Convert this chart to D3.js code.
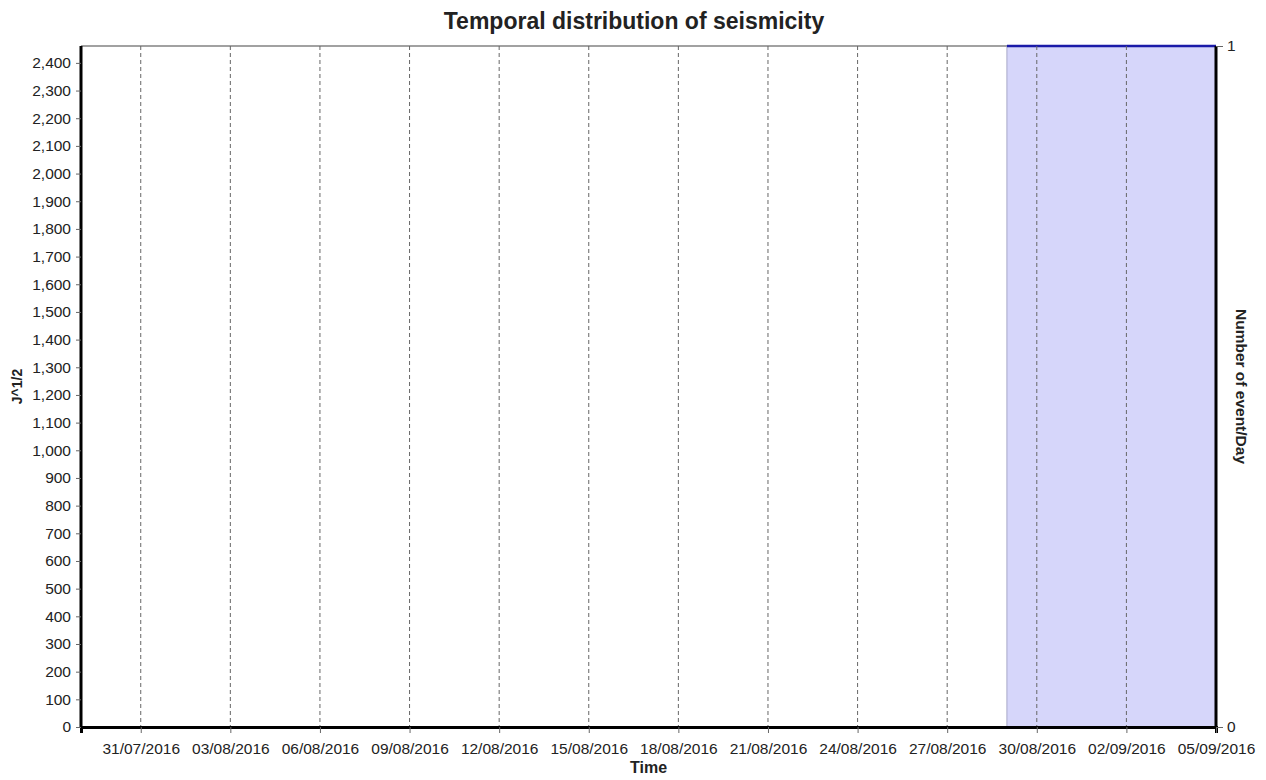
<!DOCTYPE html>
<html lang="en">
<head>
<meta charset="UTF-8">
<title>Temporal distribution of seismicity</title>
<script src="https://d3js.org/d3.v7.min.js"></script>
<style>
  body { margin:0; background:#fff; }
  text { font-family: "Liberation Sans", Arial, sans-serif; fill:#222; }
  .tick text { font-size:15.5px; }
  .grid line { stroke:#666; stroke-dasharray:4,3; stroke-width:1; }
</style>
</head>
<body>
<script>
// x range and tick labels (dd/mm/yyyy)
var startDate = "29/07/2016", endDate = "05/09/2016";
var xTickLabels = ["31/07/2016","03/08/2016","06/08/2016","09/08/2016","12/08/2016","15/08/2016",
                   "18/08/2016","21/08/2016","24/08/2016","27/08/2016","30/08/2016","02/09/2016","05/09/2016"];
// left axis (energy) ticks
var energyMax = 2461;
var energyTicks = d3.range(0, 2401, 100);
// number of events per day (step area)
var rateDates = ["29/08/2016","05/09/2016"];
var rateValues = [1, 1];
var rateTicks = [0, 1];

var parse = d3.timeParse("%d/%m/%Y");
var width = 1266, height = 780;
var m = {left:81, right:50, top:46, bottom:53};
var w = width - m.left - m.right, h = height - m.top - m.bottom;

var svg = d3.select("body").append("svg").attr("width", width).attr("height", height);

var x = d3.scaleTime().domain([parse(startDate), parse(endDate)]).range([0, w]);
var y = d3.scaleLinear().domain([0, energyMax]).range([h, 0]);
var y2 = d3.scaleLinear().domain([0, 1]).range([h, 0]);

var g = svg.append("g").attr("transform", "translate(" + m.left + "," + m.top + ")");

// top border
g.append("line").attr("x1", 0).attr("x2", w).attr("y1", 0).attr("y2", 0)
  .attr("stroke", "#444").attr("stroke-width", 1.2);

// events/day area
var rateData = rateDates.map(function(d, i){ return {date: parse(d), v: rateValues[i]}; });
var area = d3.area().curve(d3.curveStepAfter)
  .x(function(d){ return x(d.date); })
  .y0(h)
  .y1(function(d){ return y2(d.v); });
g.append("path").attr("d", area(rateData))
  .attr("fill", "#d6d6fa").attr("stroke", "#a8a8c8").attr("stroke-width", 1);
var line = d3.line().curve(d3.curveStepAfter)
  .x(function(d){ return x(d.date); })
  .y(function(d){ return y2(d.v); });
g.append("path").attr("d", line(rateData))
  .attr("fill", "none").attr("stroke", "#1a1aa8").attr("stroke-width", 2.5);

// vertical dashed grid
var tickDates = xTickLabels.map(parse);
g.append("g").attr("class", "grid")
  .selectAll("line").data(tickDates.slice(0, -1)).enter().append("line")
  .attr("x1", function(d){ return x(d); }).attr("x2", function(d){ return x(d); })
  .attr("y1", 0).attr("y2", h);

// x axis
var xAxis = g.append("g").attr("transform", "translate(0," + h + ")")
  .call(d3.axisBottom(x).tickValues(tickDates).tickSize(6).tickPadding(10)
    .tickFormat(d3.timeFormat("%d/%m/%Y")));
xAxis.select(".domain").attr("stroke", "#000").attr("stroke-width", 3);
xAxis.selectAll(".tick line").attr("stroke", "#666");

// left axis
var yAxis = g.append("g")
  .call(d3.axisLeft(y).tickValues(energyTicks).tickSize(5).tickPadding(5).tickFormat(d3.format(",")));
yAxis.select(".domain").attr("stroke", "#000").attr("stroke-width", 3).attr("d", "M0," + h + "V0");
yAxis.selectAll(".tick line").attr("stroke", "#666");

// right axis
var yAxis2 = g.append("g").attr("transform", "translate(" + w + ",0)")
  .call(d3.axisRight(y2).tickValues(rateTicks).tickSize(7).tickPadding(4).tickFormat(d3.format("d")));
yAxis2.select(".domain").attr("stroke", "#000").attr("stroke-width", 3).attr("d", "M0," + h + "V0");
yAxis2.selectAll(".tick line").attr("stroke", "#666");

// titles
svg.append("text").attr("x", 634).attr("y", 29).attr("text-anchor", "middle")
  .style("font-size", "23px").style("font-weight", "bold").text("Temporal distribution of seismicity");
svg.append("text").attr("x", m.left + w / 2).attr("y", 773).attr("text-anchor", "middle")
  .style("font-size", "16px").style("font-weight", "bold").text("Time");
svg.append("text").attr("transform", "translate(22," + (m.top + h / 2) + ") rotate(-90)")
  .attr("text-anchor", "middle").style("font-size", "14px").style("font-weight", "bold").text("J^1/2");
svg.append("text").attr("transform", "translate(1236," + (m.top + h / 2) + ") rotate(90)")
  .attr("text-anchor", "middle").style("font-size", "15.5px").style("font-weight", "bold").text("Number of event/Day");
</script>
</body>
</html>
